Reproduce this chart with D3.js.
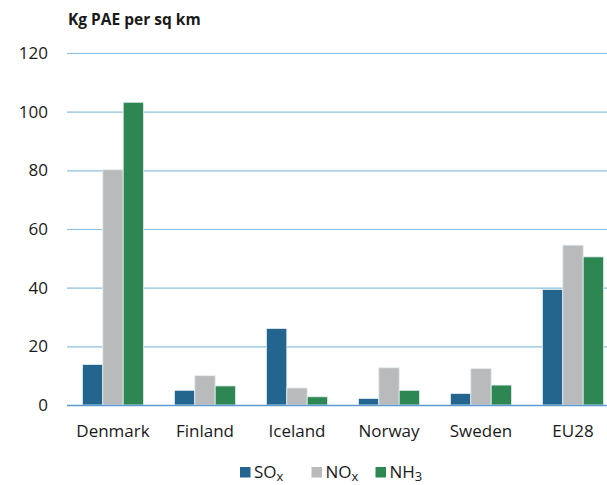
<!DOCTYPE html>
<html>
<head>
<meta charset="utf-8">
<script src="https://cdn.jsdelivr.net/npm/d3@7"></script>
<style>
  body { margin: 0; background: #fff; }
  svg text { font-family: "Open Sans", "Noto Sans", sans-serif; fill: #1a1a1a; }
</style>
</head>
<body>
<svg id="chart" width="607" height="485"></svg>
<script>
const countries = ["Denmark", "Finland", "Iceland", "Norway", "Sweden", "EU28"];
const soxValues = [13.8, 5.0, 26.1, 2.2, 3.9, 39.4];
const noxValues = [80.2, 10.0, 5.8, 12.7, 12.4, 54.5];
const nh3Values = [103.2, 6.5, 2.8, 5.0, 6.8, 50.5];
const yTicks = [0, 20, 40, 60, 80, 100, 120];
const seriesKeys = ["SO", "NO", "NH"];
const seriesSubs = ["x", "x", "3"];

var colors = ["#23658f", "#b9babc", "#2e8752"];

var svg = d3.select("#chart"),
    margin = {top: 53, left: 67, bottom: 80},
    height = +svg.attr("height");

var data = countries.map((c, i) => ({country: c, values: [soxValues[i], noxValues[i], nh3Values[i]]}));

var x0 = d3.scaleBand()
    .domain(countries)
    .range([margin.left, 619])
    .paddingInner(0.335)
    .paddingOuter(0.1675);

var x1 = d3.scaleBand()
    .domain([0, 1, 2])
    .range([0, x0.bandwidth()]);

var y = d3.scaleLinear()
    .domain([0, 120])
    .range([405, margin.top]);

// gridlines
svg.append("g")
    .selectAll("line")
    .data(yTicks.filter(d => d > 0))
    .enter().append("line")
    .attr("x1", margin.left)
    .attr("x2", 607)
    .attr("y1", d => y(d) + 0.5)
    .attr("y2", d => y(d) + 0.5)
    .style("stroke", "#8dbfdf")
    .attr("stroke-width", 1.2);

// y tick labels
svg.append("g")
    .selectAll("text")
    .data(yTicks)
    .enter().append("text")
    .attr("x", 48)
    .attr("y", d => y(d) + 6)
    .attr("text-anchor", "end")
    .attr("font-size", 17)
    .text(d => d);

// bars
var groups = svg.append("g")
    .selectAll("g")
    .data(data)
    .enter().append("g")
    .attr("transform", d => "translate(" + x0(d.country) + ",0)");

groups.selectAll("rect")
    .data(d => d.values)
    .enter().append("rect")
    .attr("x", (d, i) => x1(i))
    .attr("y", d => y(d))
    .attr("width", x1.bandwidth())
    .attr("height", d => y(0) - y(d))
    .style("fill", (d, i) => colors[i])
    .style("stroke", "#e6eef2")
    .attr("stroke-width", 0.8);

// baseline
svg.append("line")
    .attr("x1", margin.left)
    .attr("x2", 607)
    .attr("y1", y(0) + 0.5)
    .attr("y2", y(0) + 0.5)
    .style("stroke", "#5b9bd0")
    .attr("stroke-width", 1.5);

// x labels
svg.append("g")
    .selectAll("text")
    .data(countries)
    .enter().append("text")
    .attr("x", d => x0(d) + x0.bandwidth() / 2)
    .attr("y", 437)
    .attr("text-anchor", "middle")
    .attr("font-size", 17)
    .text(d => d);

// axis title
svg.append("text")
    .attr("x", 68)
    .attr("y", 25)
    .attr("font-size", 15.5)
    .attr("font-weight", "bold")
    .text("Kg PAE per sq km");

// legend
var legendX = [240, 311.5, 375.5];
var legend = svg.append("g")
    .selectAll("g")
    .data(seriesKeys)
    .enter().append("g")
    .attr("transform", (d, i) => "translate(" + legendX[i] + ",0)");

legend.append("rect")
    .attr("x", 0)
    .attr("y", 467)
    .attr("width", 10.5)
    .attr("height", 10.5)
    .style("fill", (d, i) => colors[i]);

legend.append("text")
    .attr("class", "legendMain")
    .attr("x", 14)
    .attr("y", 478)
    .attr("font-size", 17)
    .text(d => d);

// subscripts placed right after the main label
legend.each(function(d, i) {
    var g = d3.select(this);
    var w = g.select(".legendMain").node().getComputedTextLength();
    g.append("text")
        .attr("x", 14 + w)
        .attr("y", 481)
        .attr("font-size", 13)
        .text(seriesSubs[i]);
});
</script>
</body>
</html>
